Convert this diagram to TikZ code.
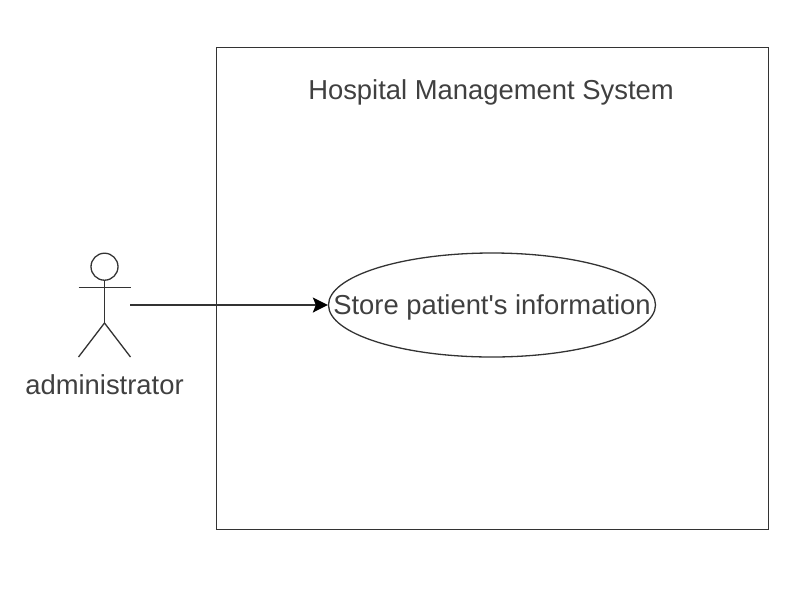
\documentclass[tikz,border=0pt]{standalone}
\usepackage{fontspec}
\newfontfamily\lblfont{Liberation Sans}
\usetikzlibrary{shapes.geometric,arrows.meta}
\tikzset{
  ln/.style={draw=black!80,line width=1.3pt},
  lbl/.style={font=\lblfont\fontsize{27.4}{30}\selectfont,text=black!75,inner sep=0pt},
}
\begin{document}
\begin{tikzpicture}[x=1pt,y=-1pt]
\useasboundingbox (0,0) rectangle (810,606);
\node[ln,rectangle,minimum width=551.5pt,minimum height=482pt,inner sep=0pt,anchor=north west] (sys) at (216,47) {};
\node[lbl] (title) at (491,92) {Hospital Management System};
\node[ln,ellipse,minimum width=327pt,minimum height=104pt,inner sep=0pt] (uc) at (492,305) {};
\node[lbl] at (492,307) {Store patient's information};
\node[ln,circle,minimum size=27pt,inner sep=0pt] (head) at (104.5,266.7) {};
\coordinate (hip) at (104.5,323);
\coordinate (armL) at (78.5,287.7);
\coordinate (armR) at (130.5,287.7);
\coordinate (footL) at (78.5,357);
\coordinate (footR) at (130.5,357);
\coordinate (src) at (130,305);
\draw[ln] (head.south) -- (hip);
\draw[ln] (armL) -- (armR);
\draw[ln] (footL) -- (hip) -- (footR);
\node[lbl] (actor) at (104.5,385) {administrator};
\draw[draw=black!80,line width=1.7pt,-{Stealth[length=15pt,width=15pt,inset=3pt,color=black]}] (src) -- (uc.west);
\end{tikzpicture}
\end{document}
